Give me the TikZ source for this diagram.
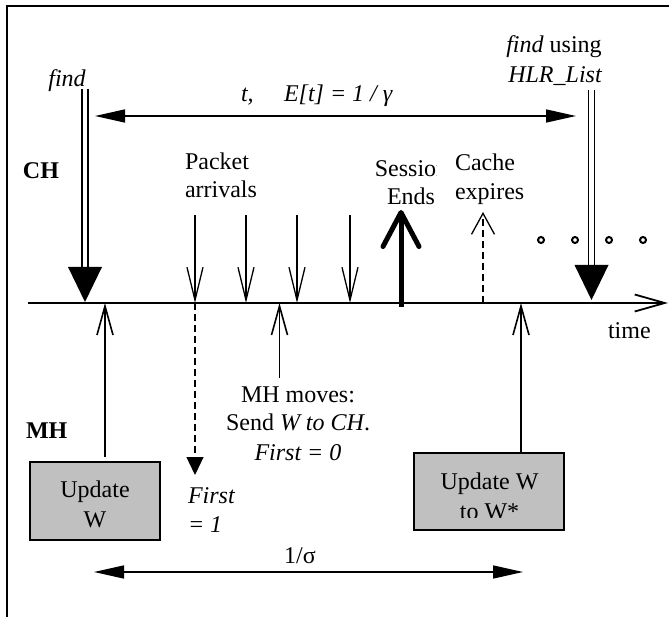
\documentclass[tikz,border=0pt]{standalone}
\usepackage{fontspec}
\setmainfont{Liberation Serif}
\usetikzlibrary{arrows.meta,calc}
\definecolor{boxgray}{RGB}{192,192,192}
\begin{document}
\begin{tikzpicture}[x=1pt,y=-1pt,
  every node/.style={inner sep=0pt,outer sep=0pt,font=\fontsize{24}{29}\selectfont},
  txt/.style={anchor=base},
  txtw/.style={anchor=base west},
  shaft/.style={double=white,double distance=4.5pt,line width=1.4pt},
  thinarrow/.style={line width=1.3pt,-{Straight Barb[length=33pt,width=16pt]}},
  uparrow/.style={line width=1.6pt,-{Straight Barb[length=29pt,width=16pt]}},
  boldarrow/.style={line width=5pt,-{Straight Barb[length=34pt,width=36pt,round]}},
  dasharrow/.style={line width=1.3pt,dash pattern=on 7pt off 4pt,-{Straight Barb[length=21pt,width=23pt]}},
  dashdown/.style={line width=1.3pt,dash pattern=on 7pt off 4pt,-{Triangle[length=18pt,width=17pt]}},
  measure/.style={line width=1.5pt,{Triangle[length=30pt,width=13pt]}-{Triangle[length=30pt,width=13pt]}},
  axisline/.style={line width=1.8pt,-{Straight Barb[length=30pt,width=17pt]}},
  graybox/.style={draw,line width=1.8pt,fill=boxgray,anchor=north west},
  dot/.style={circle,draw,line width=2pt,minimum size=6pt}
]
\useasboundingbox (0,0) rectangle (669,617);
% frame
\draw[line width=2.2pt] (7,617) -- (7,6) -- (669,6);

% time axis
\coordinate (axs) at (28,303);
\coordinate (axe) at (668,303);
\draw[axisline] (axs) -- (axe);
\node[txtw] (time) at (608,338) {time};

% labels CH / MH
\node[txtw] (ch) at (23,179) {\bfseries CH};
\node[txtw] (mh) at (26,438) {\bfseries MH};

% find (left)
\node[txt] (find) at (67,87) {\itshape find};
\coordinate (f1top) at (85,89);
\coordinate (f1base) at (85,268);
\coordinate (f1tip) at (85,302);
\draw[shaft] (f1top) -- (f1base);
\fill ($(f1base)+(-17,-1)$) -- ($(f1base)+(17,-1)$) -- (f1tip) -- cycle;

% find using HLR_List (right)
\node[txt] (fu) at (554,53) {\itshape find\/\upshape\ using};
\node[txt] (hlr) at (555,83) {\itshape HLR\_List};
\coordinate (f2top) at (591.5,90);
\coordinate (f2base) at (591.5,266);
\coordinate (f2tip) at (591.5,300);
\draw[shaft] (f2top) -- (f2base);
\fill ($(f2base)+(-17,-1)$) -- ($(f2base)+(17,-1)$) -- (f2tip) -- cycle;

% t measure
\coordinate (tl) at (95,116);
\coordinate (tr) at (576,116);
\draw[measure] (tl) -- (tr);
\node[txtw] (tlab) at (241,102) {\itshape t,};
\node[txtw] (elab) at (284,102) {\itshape E[t] = 1 / γ};

% packet arrivals
\node[txtw] (pk1) at (185,170) {Packet};
\node[txtw] (pk2) at (185,198) {arrivals};
\foreach \i/\x in {1/195,2/246,3/297,4/350}{
  \coordinate (pt\i) at (\x,215);
  \coordinate (pb\i) at (\x,303);
  \draw[thinarrow] (pt\i) -- (pb\i);
}

% session ends
\begin{scope}
  \clip (0,0) rectangle (436,617);
  \node[txt] (sess) at (411.5,177) {Session};
\end{scope}
\node[txt] (ends) at (411,205) {Ends};
\coordinate (sb) at (401,307);
\coordinate (st) at (401,210);
\draw[boldarrow] (sb) -- (st);

% cache expires
\node[txtw] (ca1) at (455,171) {Cache};
\node[txtw] (ca2) at (455,200) {expires};
\coordinate (cb) at (483,303);
\coordinate (ct) at (483,212);
\draw[dasharrow] (cb) -- (ct);

% dots
\foreach \i/\x in {1/541,2/575,3/609,4/643}{
  \node[dot] (d\i) at (\x,240) {};
}

% MH side: Update W box
\node[graybox,minimum width=130pt,minimum height=78pt] (box1) at (30,462) {};
\node[txt] (b1a) at (95,497) {Update};
\node[txt] (b1b) at (95,527) {W};
\coordinate (u1b) at (105,457);
\coordinate (u1t) at (105,303);
\draw[uparrow] (u1b) -- (u1t);

% dashed down: First = 1
\coordinate (dd1) at (195,303);
\coordinate (dd2) at (195,475);
\draw[dashdown] (dd1) -- (dd2);
\node[txtw] (fi1) at (188,503) {\itshape First};
\node[txtw] (fi2) at (188,532) {\itshape = 1};

% MH moves
\coordinate (m1b) at (279.5,378);
\coordinate (m1t) at (279.5,303);
\draw[uparrow] (m1b) -- (m1t);
\node[txt] (mv1) at (298,402) {MH moves:};
\node[txt] (mv2) at (298,430) {Send \textit{W to CH}.};
\node[txt] (mv3) at (298,460) {\itshape First = 0};

% Update W to W* box
\node[graybox,minimum width=150pt,minimum height=77pt] (box2) at (414,453) {};
\node[txt] (b2a) at (489.5,489) {Update W};
\begin{scope}
  \clip (0,0) rectangle (669,517);
  \node[txt] (b2b) at (489.5,519) {to W*};
\end{scope}
\coordinate (u2b) at (521,452);
\coordinate (u2t) at (521,303);
\draw[uparrow] (u2b) -- (u2t);

% 1/sigma measure
\coordinate (sl) at (94,572);
\coordinate (sr) at (523,572);
\draw[measure] (sl) -- (sr);
\node[txt] (sig) at (300,563) {1/σ};
\end{tikzpicture}
\end{document}
